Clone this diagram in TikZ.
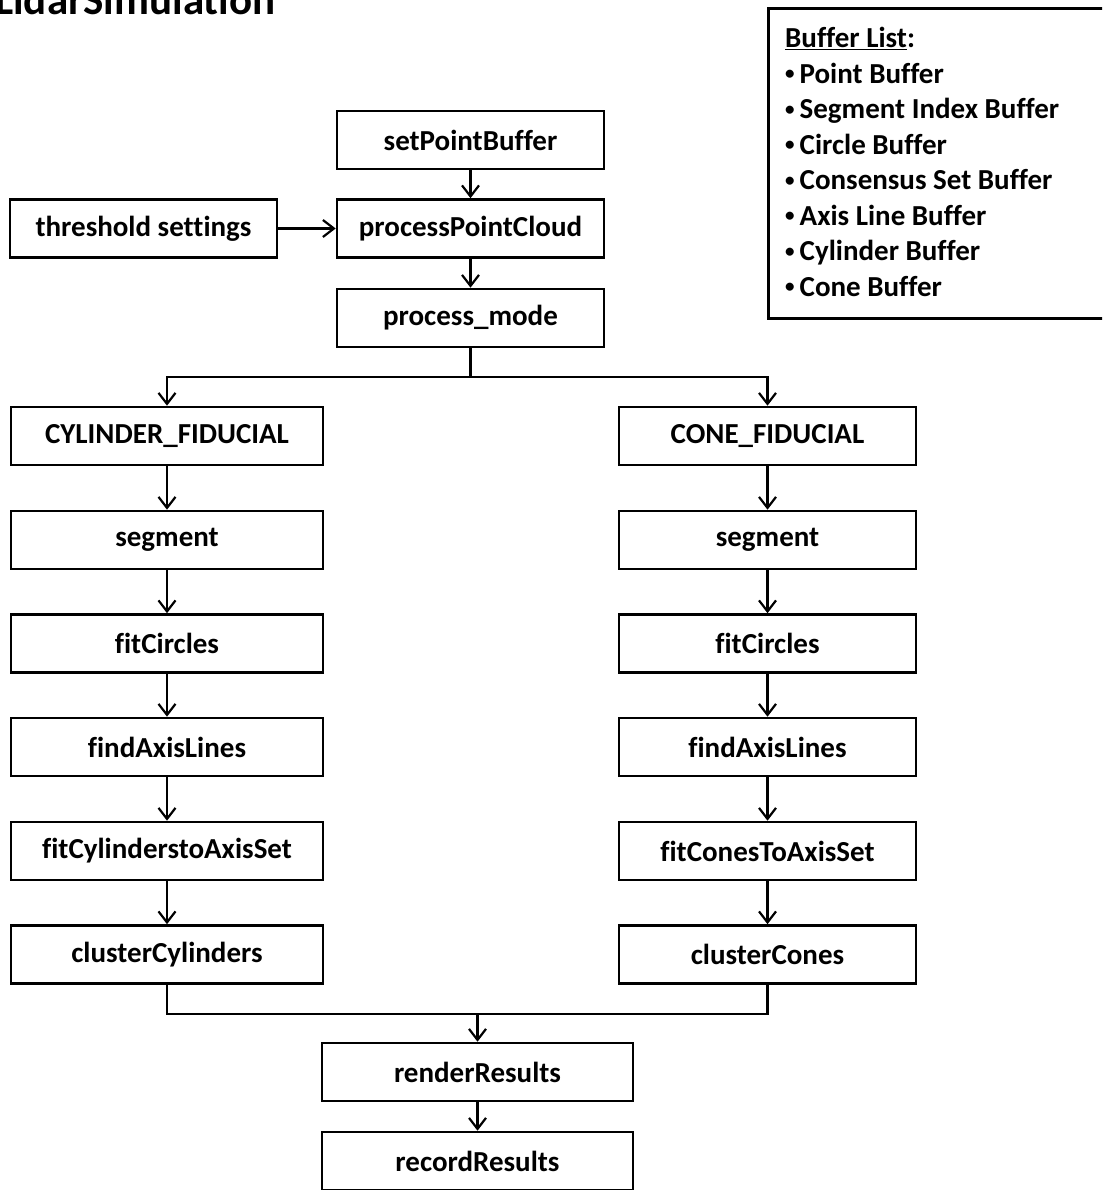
\documentclass[tikz,border=0pt]{standalone}
\usepackage{fontspec}
\setmainfont{Carlito}[Ligatures=CommonOff]
\usetikzlibrary{arrows.meta}
\newcommand{\bufbul}{\raisebox{3.5pt}{\fontsize{19}{19}\selectfont•}\hspace{5pt}}
\begin{document}
\begin{tikzpicture}[x=1pt,y=-1pt,
  box/.style={draw,line width=2.6pt,minimum height=58pt,inner sep=0pt,
    font=\bfseries\fontsize{29}{33}\selectfont},
  topbox/.style={box,minimum width=267pt},
  lbox/.style={box,minimum width=312pt},
  rbox/.style={box,minimum width=297pt},
  bbox/.style={box,minimum width=311pt},
  conn/.style={line width=2.4pt},
  arr/.style={conn,-{Straight Barb[length=11pt,width=17pt,line width=2.2pt]}}]
\useasboundingbox (0,0) rectangle (1102,1190);
\clip (0,0) rectangle (1102,1190);

\node[anchor=base west,inner sep=0pt,font=\bfseries\fontsize{43}{48}\selectfont] (title) at (-5,15) {LidarSimulation};

\node[draw,line width=2.6pt,minimum width=350pt,minimum height=310pt,anchor=north west] (bufbox) at (767,7) {};
\node[anchor=north west,align=left,inner sep=0pt,font=\bfseries\fontsize{29}{35.5}\selectfont] (buftext) at (785,27)
 {\underline{Buffer List}:\\
  \bufbul Point Buffer\\
  \bufbul Segment Index Buffer\\
  \bufbul Circle Buffer\\
  \bufbul Consensus Set Buffer\\
  \bufbul Axis Line Buffer\\
  \bufbul Cylinder Buffer\\
  \bufbul Cone Buffer};

\node[topbox] (spb) at (470.5,140) {setPointBuffer};
\node[topbox] (ppc) at (470.5,228.5) {processPointCloud};
\node[topbox] (pm) at (470.5,318) {process\_mode};
\node[topbox] (thr) at (143.5,228.5) {threshold settings};

\node[lbox] (cylfid) at (167,436) {CYLINDER\_FIDUCIAL};
\node[lbox] (lseg) at (167,540) {segment};
\node[lbox] (lfit) at (167,643.5) {fitCircles};
\node[lbox] (laxis) at (167,747) {findAxisLines};
\node[lbox] (lfcyl) at (167,851) {fitCylinderstoAxisSet};
\node[lbox] (lclus) at (167,954.5) {clusterCylinders};

\node[rbox] (conefid) at (767.5,436) {CONE\_FIDUCIAL};
\node[rbox] (rseg) at (767.5,540) {segment};
\node[rbox] (rfit) at (767.5,643.5) {fitCircles};
\node[rbox] (raxis) at (767.5,747) {findAxisLines};
\node[rbox] (rfcone) at (767.5,851) {fitConesToAxisSet};
\node[rbox] (rclus) at (767.5,954.5) {clusterCones};

\node[bbox] (render) at (477.5,1072) {renderResults};
\node[bbox] (record) at (477.5,1161) {recordResults};

\coordinate (split) at (470.5,377);
\coordinate (join) at (477.5,1014);

\draw[arr] (spb) -- (ppc);
\draw[arr] (thr) -- (ppc);
\draw[arr] (ppc) -- (pm);
\draw[conn] (pm.south) -- (split);
\draw[arr] (split) -| (cylfid.north);
\draw[arr] (split) -| (conefid.north);

\draw[arr] (cylfid) -- (lseg);
\draw[arr] (lseg) -- (lfit);
\draw[arr] (lfit) -- (laxis);
\draw[arr] (laxis) -- (lfcyl);
\draw[arr] (lfcyl) -- (lclus);

\draw[arr] (conefid) -- (rseg);
\draw[arr] (rseg) -- (rfit);
\draw[arr] (rfit) -- (raxis);
\draw[arr] (raxis) -- (rfcone);
\draw[arr] (rfcone) -- (rclus);

\draw[conn] (lclus.south) |- (join) -| (rclus.south);
\draw[arr] (join) -- (render);
\draw[arr] (render) -- (record);
\end{tikzpicture}
\end{document}
